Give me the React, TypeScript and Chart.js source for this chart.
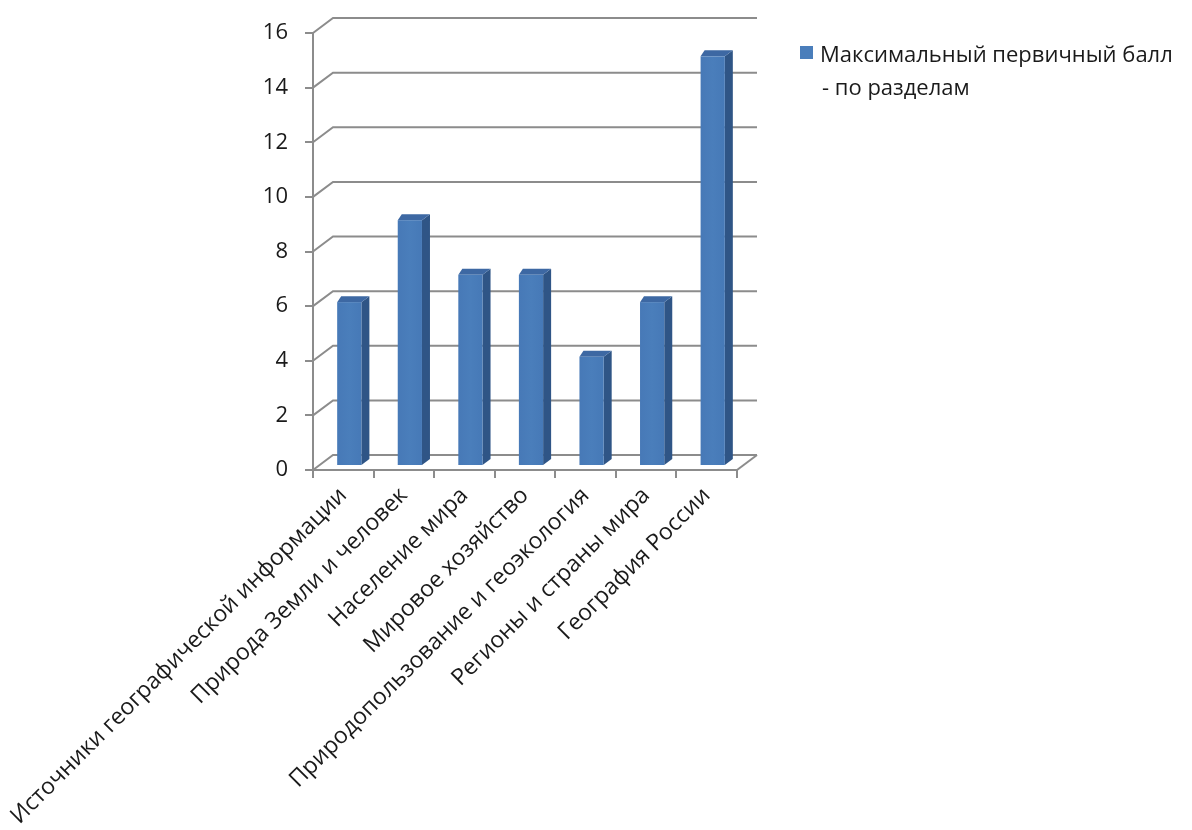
import { useEffect, useRef } from 'react';
import { Chart, registerables } from 'chart.js';

Chart.register(...registerables);

// Sections of the exam and their maximum primary score
const categories = [
  'Источники географической информации',
  'Природа Земли и человек',
  'Население мира',
  'Мировое хозяйство',
  'Природопользование и геоэкология',
  'Регионы и страны мира',
  'География России',
];
const maxScores = [6, 9, 7, 7, 4, 6, 15];
const legendLines = ['Максимальный первичный балл', '- по разделам'];
const yMin = 0;
const yMax = 16;
const yStep = 2;

const FONT = '"Open Sans", "Noto Sans", sans-serif';
const GRID = '#8c8c8c';
const TEXT = '#1a1a1a';
const FRONT = '#4a7ebb';
const SIDE = '#2f5586';
const TOP = '#3d68a3';

// perspective offset of the back wall relative to the front axes
const DEPTH_X = 20;
const DEPTH_Y = 15;
// bar placement inside the depth and the bar's own depth
const BAR_SHIFT_X = 6;
const BAR_SHIFT_Y = 4;
const BAR_DEPTH_L = 4;
const BAR_DEPTH_R = 8;
const BAR_DEPTH_Y = 6;

const wall3d = {
  id: 'wall3d',
  beforeDatasetsDraw(chart: any) {
    const { ctx, chartArea, scales } = chart;
    const { left, right } = chartArea;
    const y = scales.y;
    ctx.save();
    ctx.strokeStyle = GRID;
    ctx.lineWidth = 2;
    y.ticks.forEach((t: any) => {
      const py = y.getPixelForValue(t.value);
      ctx.beginPath();
      ctx.moveTo(left, py);
      ctx.lineTo(left + DEPTH_X, py - DEPTH_Y);
      ctx.lineTo(right + DEPTH_X, py - DEPTH_Y);
      ctx.stroke();
    });
    const p0 = y.getPixelForValue(yMin);
    ctx.beginPath();
    ctx.moveTo(right, p0);
    ctx.lineTo(right + DEPTH_X, p0 - DEPTH_Y);
    ctx.stroke();
    ctx.restore();
  },
};

const bars3d = {
  id: 'bars3d',
  afterDatasetsDraw(chart: any) {
    const { ctx } = chart;
    const meta = chart.getDatasetMeta(0);
    ctx.save();
    meta.data.forEach((bar: any) => {
      const { x, y, base, width } = bar.getProps(['x', 'y', 'base', 'width'], true);
      const l = x - width / 2 + BAR_SHIFT_X;
      const r = x + width / 2 + BAR_SHIFT_X;
      const t = y - BAR_SHIFT_Y;
      const b = base - BAR_SHIFT_Y;
      // side face
      ctx.fillStyle = SIDE;
      ctx.beginPath();
      ctx.moveTo(r, t);
      ctx.lineTo(r + BAR_DEPTH_R, t - BAR_DEPTH_Y);
      ctx.lineTo(r + BAR_DEPTH_R, b - BAR_DEPTH_Y);
      ctx.lineTo(r, b);
      ctx.closePath();
      ctx.fill();
      // top face
      ctx.fillStyle = TOP;
      ctx.beginPath();
      ctx.moveTo(l, t);
      ctx.lineTo(l + BAR_DEPTH_L, t - BAR_DEPTH_Y);
      ctx.lineTo(r + BAR_DEPTH_R, t - BAR_DEPTH_Y);
      ctx.lineTo(r, t);
      ctx.closePath();
      ctx.fill();
      // front face
      const g = ctx.createLinearGradient(l, 0, r, 0);
      g.addColorStop(0, '#4779b7');
      g.addColorStop(0.5, FRONT);
      g.addColorStop(1, '#4679b7');
      ctx.fillStyle = g;
      ctx.fillRect(l, t, r - l, b - t);
    });
    ctx.restore();
  },
};

const legendBox = {
  id: 'legendBox',
  afterDraw(chart: any) {
    const { ctx } = chart;
    ctx.save();
    ctx.fillStyle = FRONT;
    ctx.fillRect(800, 46, 13, 13);
    ctx.fillStyle = TEXT;
    ctx.font = `22px ${FONT}`;
    ctx.textAlign = 'left';
    ctx.textBaseline = 'alphabetic';
    ctx.fillText(legendLines[0], 820, 62);
    ctx.fillText(legendLines[1], 822, 95);
    ctx.restore();
  },
};

export default function App() {
  const ref = useRef<HTMLCanvasElement>(null);

  useEffect(() => {
    document.body.style.margin = '0';
    const canvas = ref.current!;
    const chart = new Chart(canvas, {
      type: 'bar',
      data: {
        labels: categories,
        datasets: [
          {
            label: legendLines.join(' '),
            data: maxScores,
            backgroundColor: 'rgba(0,0,0,0)',
            borderWidth: 0,
            categoryPercentage: 1,
            barPercentage: 0.4,
          },
        ],
      },
      options: {
        animation: false,
        responsive: false,
        events: [],
        layout: { padding: { left: 0, top: 33, right: 455, bottom: 0 } },
        plugins: { legend: { display: false }, tooltip: { enabled: false } },
        scales: {
          x: {
            afterFit: (s: any) => {
              s.height = 360;
              s.paddingLeft = 0;
              s.paddingRight = 0;
            },
            grid: { drawOnChartArea: false, offset: true, tickLength: 8, color: GRID, lineWidth: 2 },
            border: { color: GRID, width: 2 },
            ticks: {
              autoSkip: false,
              minRotation: 45,
              maxRotation: 45,
              padding: 4,
              color: TEXT,
              font: { family: FONT, size: 23 },
            },
          },
          y: {
            min: yMin,
            max: yMax,
            afterFit: (s: any) => {
              s.width = 313;
              s.paddingTop = 0;
              s.paddingBottom = 0;
            },
            grid: { drawOnChartArea: false, tickLength: 8, color: GRID, lineWidth: 2 },
            border: { color: GRID, width: 2 },
            ticks: {
              stepSize: yStep,
              padding: 17,
              color: TEXT,
              font: { family: FONT, size: 22 },
            },
          },
        },
      },
      plugins: [wall3d, bars3d, legendBox],
    });
    return () => chart.destroy();
  }, []);

  return (
    <div style={{ width: 1192, height: 830, background: '#fff' }}>
      <canvas ref={ref} width={1192} height={830} style={{ display: 'block' }} />
    </div>
  );
}
